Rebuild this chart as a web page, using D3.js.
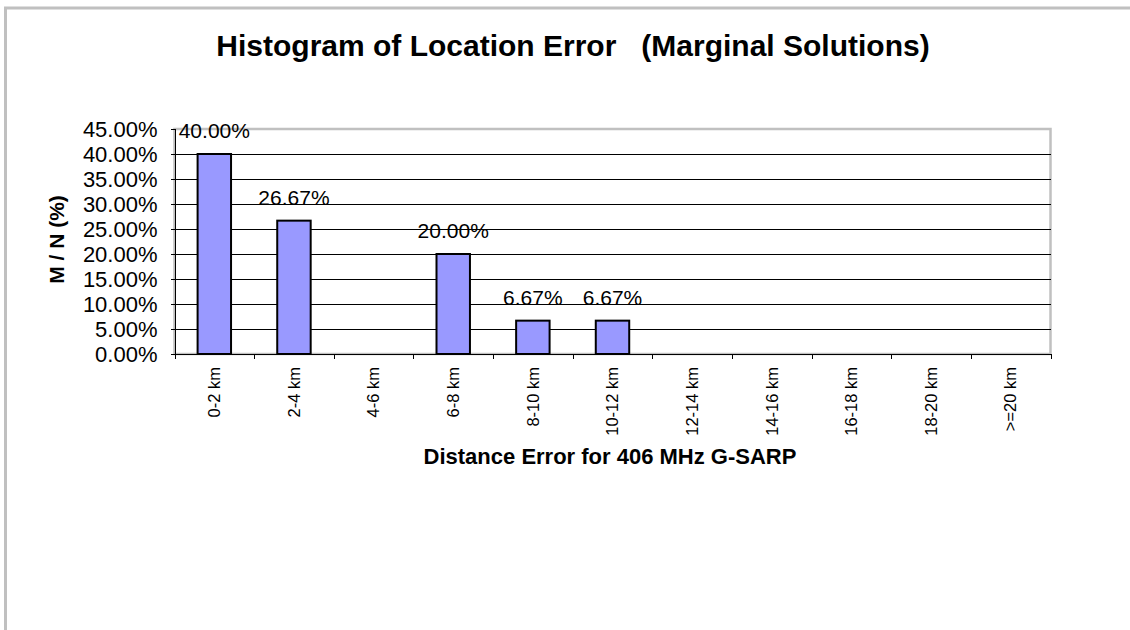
<!DOCTYPE html>
<html>
<head>
<meta charset="utf-8">
<script src="https://cdn.jsdelivr.net/npm/d3@7"></script>
<style>
	body { margin: 0; background: #fff; }
	svg { display: block; font-family: "Liberation Sans", Arial, sans-serif; }
</style>
</head>
<body>
<div id="chart"></div>
<script>
// chart data
var categories = ["0-2 km", "2-4 km", "4-6 km", "6-8 km", "8-10 km", "10-12 km", "12-14 km", "14-16 km", "16-18 km", "18-20 km", ">=20 km"];
var percents = [40.00, 26.67, 0, 20.00, 6.67, 6.67, 0, 0, 0, 0, 0];
var yTicks = [0, 5, 10, 15, 20, 25, 30, 35, 40, 45];

var width = 1130,
	height = 630;
var plot = {left: 174.5, right: 1050.5, top: 129, bottom: 354};

// pair each value with its category, keep only the non-empty bins
var bins = percents.map(function (d, i) {
	return {c: categories[i], v: d};
}).filter(function (d) {
	return d.v > 0;
});

var svg = d3.select("#chart")
	.append("svg")
	.attr("width", width)
	.attr("height", height);

svg.append("rect")
	.attr("width", width)
	.attr("height", height)
	.attr("fill", "#fff");

// outer chart border (only left and top fall inside the picture)
svg.append("rect")
	.attr("x", 5.5)
	.attr("y", 8)
	.attr("width", width + 20)
	.attr("height", height + 20)
	.attr("fill", "none")
	.attr("stroke", "#c0c0c0")
	.attr("stroke-width", 3);

var x = d3.scaleBand()
	.domain(categories)
	.range([plot.left, plot.right])
	.padding(0);

var xIndex = d3.scaleLinear()
	.domain([0, categories.length])
	.range([plot.left, plot.right]);

var y = d3.scaleLinear()
	.domain([0, 45])
	.range([plot.bottom, plot.top]);

// plot area border
svg.append("rect")
	.attr("x", plot.left)
	.attr("y", plot.top)
	.attr("width", plot.right - plot.left)
	.attr("height", plot.bottom - plot.top)
	.attr("fill", "none")
	.attr("stroke", "#c0c0c0")
	.attr("stroke-width", 2.5);

// gridlines
svg.append("g")
	.attr("transform", "translate(" + plot.left + ",0)")
	.call(d3.axisLeft(y)
		.tickValues(yTicks.filter(function (d) { return d > 0 && d < 45; }))
		.tickSize(-(plot.right - plot.left))
		.tickFormat(""))
	.call(function (g) { g.select(".domain").remove(); })
	.selectAll("line")
	.attr("stroke", "#000")
	.attr("shape-rendering", "crispEdges");

// bars
var barW = x.bandwidth() * 0.42;
svg.selectAll("rect.bar")
	.data(bins)
	.enter()
	.append("rect")
	.attr("class", "bar")
	.attr("x", function (d) { return x(d.c) + (x.bandwidth() - barW) / 2; })
	.attr("y", function (d) { return y(d.v); })
	.attr("width", barW)
	.attr("height", function (d) { return y(0) - y(d.v); })
	.attr("fill", "#9999ff")
	.attr("stroke", "#000")
	.attr("stroke-width", 2);

// data labels
svg.selectAll("text.value")
	.data(bins)
	.enter()
	.append("text")
	.attr("class", "value")
	.attr("x", function (d) { return x(d.c) + x.bandwidth() / 2; })
	.attr("y", function (d) { return y(d.v) - 16; })
	.attr("text-anchor", "middle")
	.style("font-size", "21px")
	.text(function (d) { return d.v.toFixed(2) + "%"; });

// y axis
var yAxis = svg.append("g")
	.attr("transform", "translate(" + plot.left + ",0)")
	.call(d3.axisLeft(y)
		.tickValues(yTicks)
		.tickSize(4)
		.tickPadding(13)
		.tickFormat(function (d) { return d.toFixed(2) + "%"; }));
yAxis.select(".domain").attr("stroke", "#000").attr("shape-rendering", "crispEdges");
yAxis.selectAll("line").attr("stroke", "#000").attr("shape-rendering", "crispEdges");
yAxis.selectAll("text")
	.attr("fill", "#000")
	.style("font-size", "22px")
	.style("font-family", "'Liberation Sans', Arial, sans-serif");

// x axis: tick marks at the category boundaries
var xAxis = svg.append("g")
	.attr("transform", "translate(0," + plot.bottom + ")")
	.call(d3.axisBottom(xIndex)
		.tickValues(d3.range(categories.length + 1))
		.tickSize(5)
		.tickSizeOuter(0)
		.tickFormat(""));
xAxis.select(".domain").attr("stroke", "#000").attr("shape-rendering", "crispEdges");
xAxis.selectAll("line").attr("stroke", "#000").attr("shape-rendering", "crispEdges");

// x tick labels, rotated
svg.append("g")
	.selectAll("text")
	.data(categories)
	.enter()
	.append("text")
	.attr("transform", function (d) {
		return "translate(" + (x(d) + x.bandwidth() / 2) + "," + (plot.bottom + 13) + ") rotate(-90)";
	})
	.attr("dy", "0.35em")
	.attr("text-anchor", "end")
	.style("font-size", "16.5px")
	.text(function (d) { return d; });

// titles
svg.append("text")
	.attr("x", 573)
	.attr("y", 56)
	.attr("text-anchor", "middle")
	.style("font-size", "30px")
	.style("font-weight", "bold")
	.style("white-space", "pre")
	.text("Histogram of Location Error   (Marginal Solutions)");

svg.append("text")
	.attr("x", 610)
	.attr("y", 464)
	.attr("text-anchor", "middle")
	.style("font-size", "22px")
	.style("font-weight", "bold")
	.text("Distance Error for 406 MHz G-SARP");

svg.append("text")
	.attr("transform", "translate(64," + ((plot.top + plot.bottom) / 2 - 2) + ") rotate(-90)")
	.attr("text-anchor", "middle")
	.style("font-size", "21px")
	.style("font-weight", "bold")
	.text("M / N (%)");
</script>
</body>
</html>
